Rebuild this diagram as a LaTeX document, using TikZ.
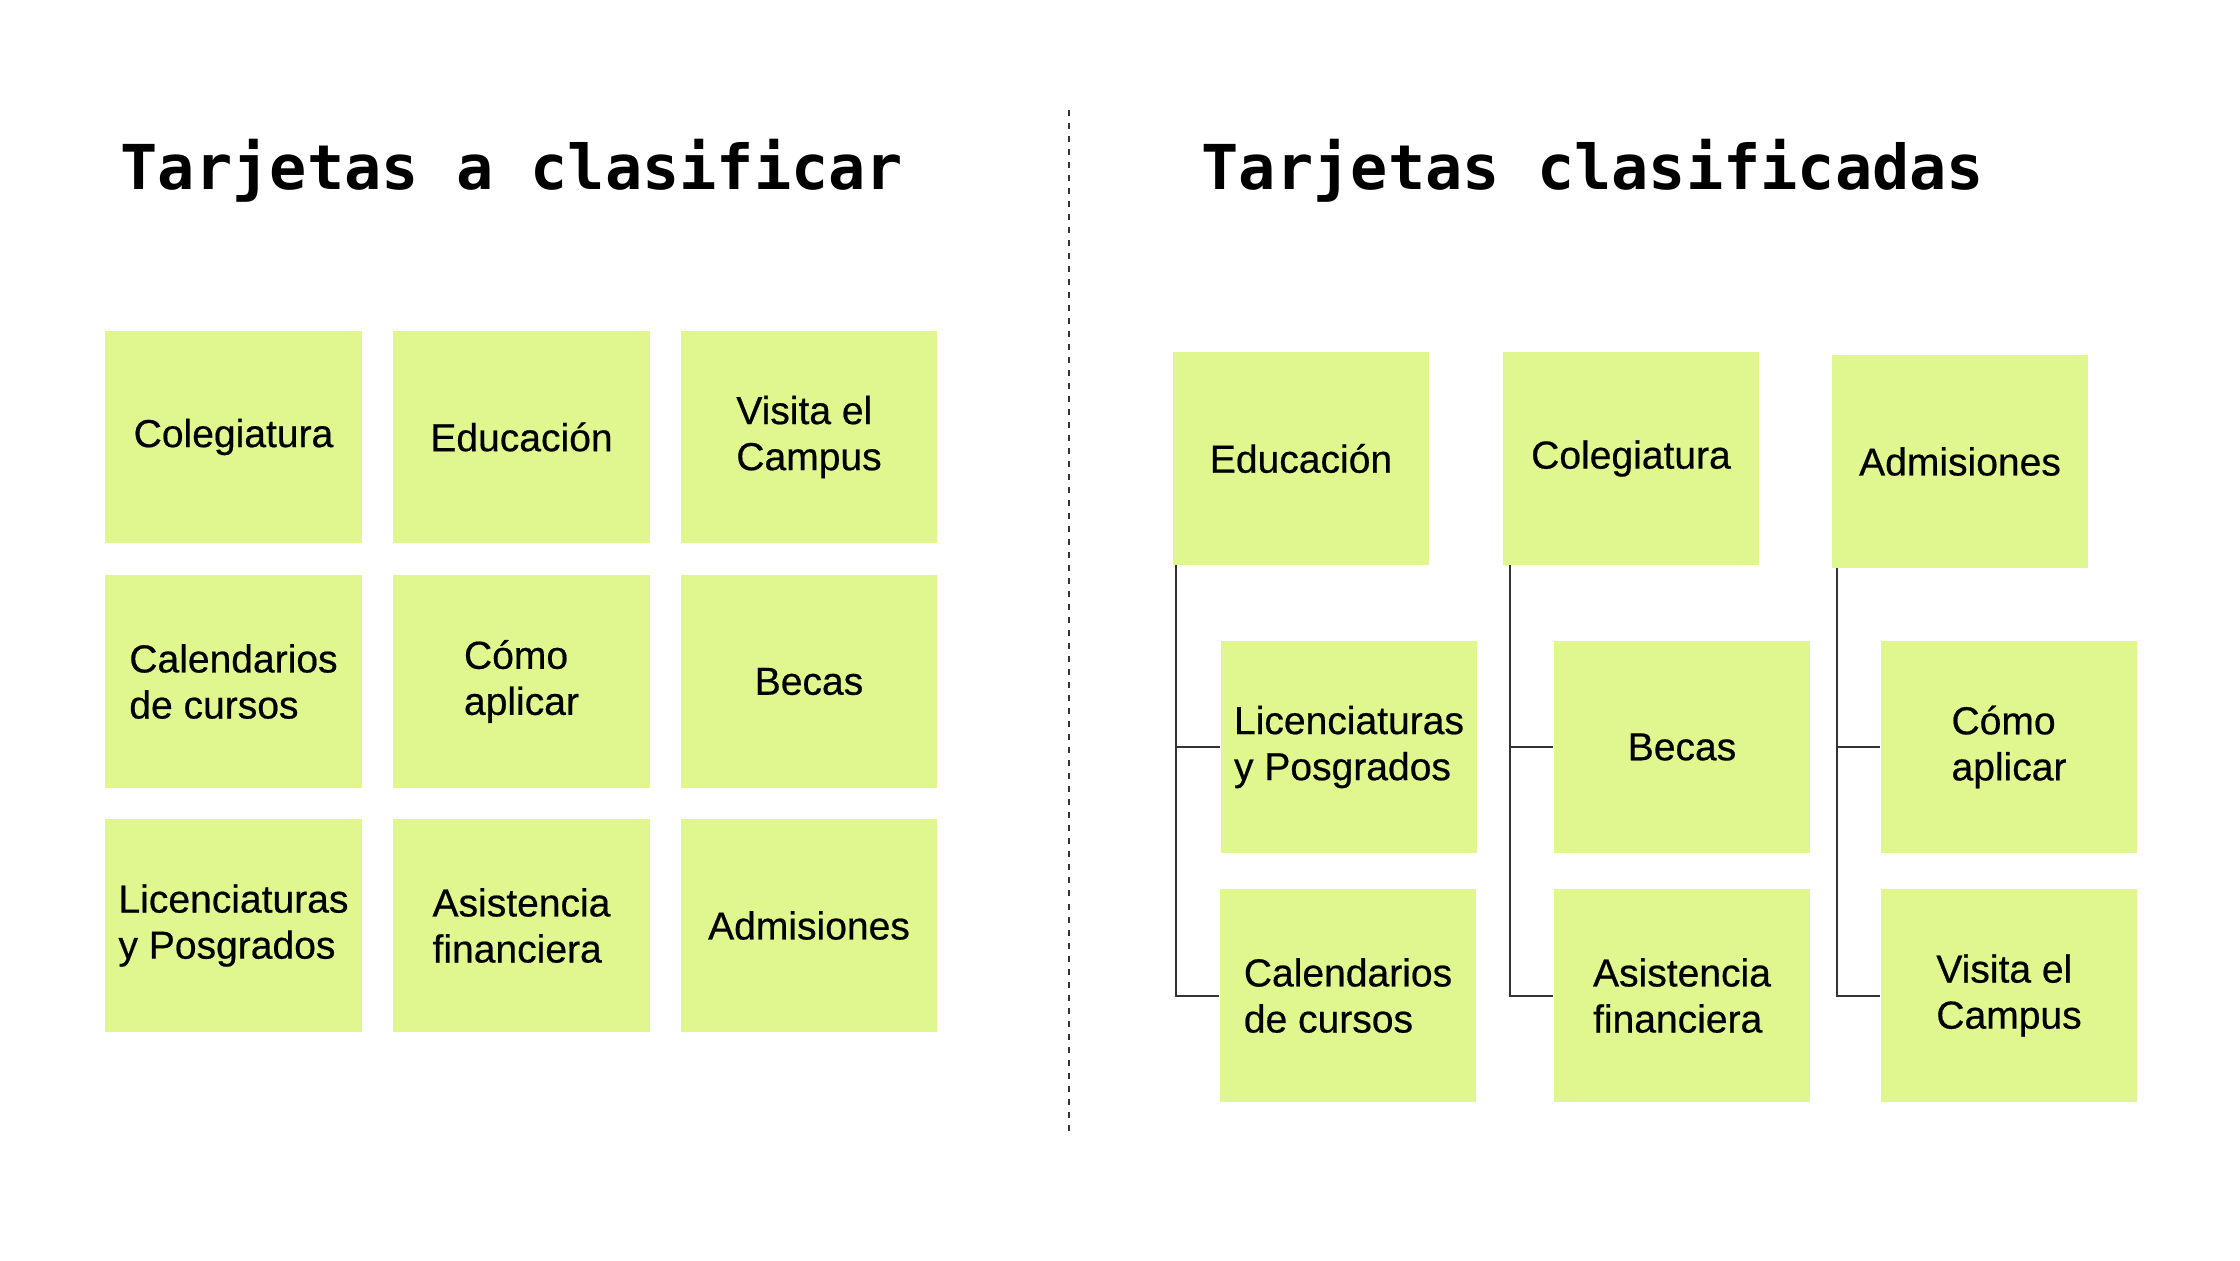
\documentclass[tikz,border=0pt]{standalone}
\usepackage{fontspec}
\setmainfont{Liberation Sans}
\newfontfamily\cardfont{Liberation Sans}[FakeBold=0.5]
\newfontfamily\titlefont{DejaVu Sans Mono}
\usetikzlibrary{positioning}

\begin{document}
\begin{tikzpicture}[x=0.01cm,y=-0.01cm,
    card/.style={fill=cardgreen, minimum width=2.56cm, minimum height=2.12cm, inner sep=0pt, align=left, font=\cardfont\fontsize{11.1pt}{13.1pt}\selectfont},
    heading/.style={anchor=base west, inner sep=0pt, font=\titlefont\bfseries\fontsize{17.6pt}{20pt}\selectfont},
    tree/.style={draw=linegray, line width=0.02cm},
    divider/.style={draw=black!80, line width=0.02cm, dash pattern=on 0.06cm off 0.07cm}]
            % colours of the cards and the lines
            \definecolor{cardgreen}{HTML}{DFF78E}
            \definecolor{linegray}{HTML}{333333}
            \useasboundingbox[fill=white] (0,0) rectangle (2240,1260);
            % titles
            \node[heading] (ltitle) at (120,189) {Tarjetas a clasificar};
            \node[heading] (rtitle) at (1201,189) {Tarjetas clasificadas};
            % dashed line between the two halves
            \coordinate (divtop) at (1069,110);
            \coordinate (divbot) at (1069,1136);
            \draw[divider] (divtop) -- (divbot);
            % cards before sorting
            \node[card] (l11) at (233.5,437) {Colegiatura};
            \node[card] (l12) at (521.5,437) {Educación};
            \node[card] (l13) at (809,437) {Visita el\\Campus};
            \node[card] (l21) at (233.5,681.5) {Calendarios\\de cursos};
            \node[card] (l22) at (521.5,681.5) {Cómo\\aplicar};
            \node[card] (l23) at (809,681.5) {Becas};
            \node[card] (l31) at (233.5,925.5) {Licenciaturas\\y Posgrados};
            \node[card] (l32) at (521.5,925.5) {Asistencia\\financiera};
            \node[card] (l33) at (809,925.5) {Admisiones};
            % sorted cards
            \node[card] (edu) at (1301,458.5) {Educación};
            \node[card] (col) at (1631,458.5) {Colegiatura};
            \node[card] (adm) at (1960,461.5) {Admisiones};
            \node[card] (lic) at (1349,747) {Licenciaturas\\y Posgrados};
            \node[card] (cal) at (1348,995.5) {Calendarios\\de cursos};
            \node[card] (bec) at (1682,747) {Becas};
            \node[card] (asi) at (1682,995.5) {Asistencia\\financiera};
            \node[card] (com) at (2009,747) {Cómo\\aplicar};
            \node[card] (vis) at (2009,995.5) {Visita el\\Campus};
            % tree lines
            \draw[tree] ([xshift=0.04cm]edu.south west) |- (lic.west);
            \draw[tree] ([xshift=0.04cm]edu.south west) |- (cal.west);
            \draw[tree] ([xshift=0.08cm]col.south west) |- (bec.west);
            \draw[tree] ([xshift=0.08cm]col.south west) |- (asi.west);
            \draw[tree] ([xshift=0.06cm]adm.south west) |- (com.west);
            \draw[tree] ([xshift=0.06cm]adm.south west) |- (vis.west);
        \end{tikzpicture}
\end{document}
